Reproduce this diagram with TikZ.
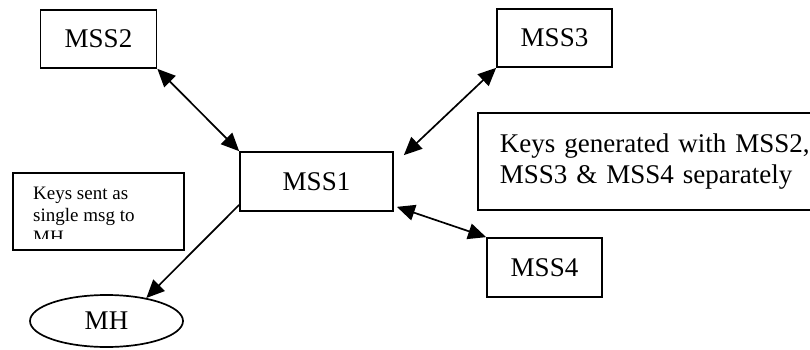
\documentclass[tikz,border=0pt]{standalone}
\usepackage{fontspec}
\setmainfont{Liberation Serif}
\usetikzlibrary{shapes.geometric, arrows.meta, positioning, calc}

\begin{document}
\begin{tikzpicture}[
    x=1pt, y=-1pt,
    % Define styles for the nodes
    base_node/.style={rectangle, draw=black, line width=1.7pt, inner sep=0pt, font=\fontsize{27}{31}\selectfont},
    mss_node/.style={base_node, minimum width=116pt, minimum height=58pt},
    note_node/.style={base_node, anchor=north west, align=left},
    host_node/.style={base_node, ellipse, minimum width=153pt, minimum height=52pt},
    small_text/.style={inner sep=0pt, anchor=north west, align=left, font=\fontsize{19}{22}\selectfont},
    % Styles for arrows
    arrow/.style={-{Triangle[length=18pt, width=16pt]}, line width=1.7pt},
    both_arrow/.style={{Triangle[length=18pt, width=16pt]}-{Triangle[length=18pt, width=16pt]}, line width=1.7pt}
]

    \clip (0,0) rectangle (810,350);

    % =========================================================================
    % MOBILE SUPPORT STATIONS
    % =========================================================================
    \node (mss2) [mss_node] at (98.5,39) {MSS2};
    \node (mss3) [mss_node, minimum width=115pt] at (554.5,38) {MSS3};
    \node (mss1) [mss_node, minimum width=153pt, minimum height=59pt] at (316.5,181.5) {MSS1};
    \node (mss4) [mss_node, minimum width=115pt, minimum height=59pt] at (544.5,267.5) {MSS4};

    % Mobile host
    \node (mh) [host_node] at (106.5,321) {MH};

    % =========================================================================
    % NOTES
    % =========================================================================
    \node (keys_gen) [note_node, minimum height=97pt, text width=310pt, inner xsep=22pt] at (477,112)
        {Keys generated with MSS2,\\MSS3 \& MSS4 separately};

    \node (keys_sent) [note_node, minimum width=171pt, minimum height=77pt] at (12,172) {};
    % text runs past the bottom of its box and is cut off
    \begin{scope}
        \clip (keys_sent.north west) rectangle ($(keys_sent.south east)+(0,-12)$);
        \node (keys_sent_text) [small_text] at ($(keys_sent.north west)+(21,15)$)
            {Keys sent as\\single msg to\\MH};
    \end{scope}

    % =========================================================================
    % KEY EXCHANGE LINKS
    % =========================================================================
    \draw [both_arrow] (mss2.south east) -- (mss1.north west);
    \draw [both_arrow] (mss3.south west) -- ($(mss1.north east)+(10,4)$);
    \draw [both_arrow] ($(mss1.south east)+(3,-5)$) -- (mss4.north west);
    \draw [arrow] ($(mss1.south west)+(0,-7)$) -- (mh.30);

\end{tikzpicture}
\end{document}
